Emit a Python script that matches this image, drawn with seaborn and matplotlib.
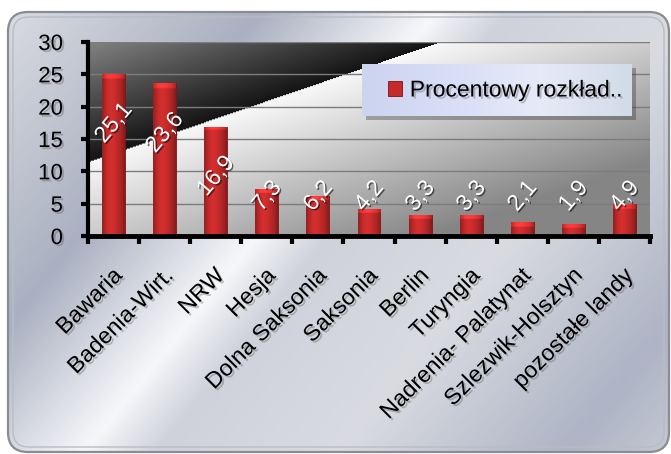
import numpy as np
import pandas as pd
import matplotlib
matplotlib.use("Agg")
import matplotlib.pyplot as plt
import matplotlib.patheffects as pe
from matplotlib.patches import FancyBboxPatch, Rectangle
from matplotlib.colors import LinearSegmentedColormap
import matplotlib.transforms as mtransforms
import seaborn as sns

# ---- data ----
categories = ["Bawaria", "Badenia-Wirt.", "NRW", "Hesja", "Dolna Saksonia",
              "Saksonia", "Berlin", "Turyngia", "Nadrenia- Palatynat",
              "Szlezwik-Holsztyn", "pozostałe landy"]
values = [25.1, 23.6, 16.9, 7.3, 6.2, 4.2, 3.3, 3.3, 2.1, 1.9, 4.9]
series_name = "Procentowy rozkład.."
y_ticks = [0, 5, 10, 15, 20, 25, 30]

FONT = ["Liberation Sans", "DejaVu Sans"]
plt.rcParams["font.family"] = FONT

W, H = 671, 454
fig = plt.figure(figsize=(W / 100, H / 100), dpi=100)
fig.patch.set_facecolor("white")

# ---- background frame (metallic) ----
bg = fig.add_axes([0, 0, 1, 1], zorder=-5)
bg.set_xlim(0, W)
bg.set_ylim(H, 0)
bg.axis("off")
yy, xx = np.mgrid[0:H, 0:W]
s = (xx + 0.8 * yy) / (W + 0.8 * H)
frame_cmap = LinearSegmentedColormap.from_list("frame", [
    (0.0, "#dcdee3"), (0.26, "#aab0c1"), (0.43, "#f6f7f9"), (0.50, "#cfd2db"),
    (0.68, "#d9dbe1"), (0.90, "#aeb4c5"), (1.0, "#c4c8d3")])
frame = FancyBboxPatch((8, 12), 661, 440, boxstyle="round,pad=0,rounding_size=20",
                       facecolor="none", edgecolor="#8a8c92", linewidth=1.6)
bg.add_patch(frame)
im = bg.imshow(s, cmap=frame_cmap, extent=[0, W, H, 0], aspect="auto", zorder=0)
im.set_clip_path(frame)
inner = FancyBboxPatch((13, 17), 651, 430, boxstyle="round,pad=0,rounding_size=16",
                       facecolor="none", edgecolor="#b9bcc4", linewidth=1.0, zorder=2)
bg.add_patch(inner)

# ---- main axes ----
L, R, T, B = 88, 650, 42, 236
ax = fig.add_axes([L / W, 1 - B / H, (R - L) / W, (B - T) / H])

df = pd.DataFrame({"land": categories, "value": values})
sns.barplot(data=df, x="land", y="value", color="#c42a2a", width=0.45,
            saturation=1, label=series_name, ax=ax, zorder=3,
            edgecolor="#7e1212", linewidth=0.6)

n = len(categories)
ax.set_xlim(-0.5, n - 0.5)
ax.set_ylim(0, 30)

# plot-area gradient (diagonal dark/white band)
pw, ph = R - L, B - T
gy, gx = np.mgrid[0:ph, 0:pw]
px = gx + L
py = gy + T
p0 = np.array([88.0, 162.0]); p1 = np.array([442.0, 42.0])
d = (p1 - p0) / np.linalg.norm(p1 - p0)
nrm = np.array([-d[1], d[0]])
if nrm[1] < 0:
    nrm = -nrm
sd = (px - p0[0]) * nrm[0] + (py - p0[1]) * nrm[1]
bright = np.where(sd < 0,
                  0.08 + 0.42 * np.clip(-sd / 110, 0, 1),
                  0.97 - 0.45 * np.clip(sd / 180, 0, 1))
ax.imshow(bright, cmap="gray", vmin=0, vmax=1,
          extent=[-0.5, n - 0.5, 0, 30], aspect="auto",
          zorder=0, origin="upper")

# bar gloss
bars = [p for p in ax.patches]
prof = np.array([0.78, 0.9, 1.0, 1.06, 1.08, 1.05, 1.0, 0.95, 0.9, 0.82, 0.7])
base = np.array([0xc6, 0x2b, 0x2b]) / 255
for p in bars:
    x0, y0, w, h = p.get_x(), p.get_y(), p.get_width(), p.get_height()
    rows = 60
    img = np.tile(prof[None, :, None] * base[None, None, :], (rows, 1, 1))
    cap = max(1, int(round(rows * 0.7 / h)))
    img[:cap] = img[:cap] * 1.28
    img = np.clip(img, 0, 1)
    gi = ax.imshow(img, extent=[x0, x0 + w, y0, y0 + h], aspect="auto",
                   zorder=3.5, origin="upper")
    gi.set_clip_path(p)

# grid
ax.set_yticks(y_ticks)
ax.yaxis.grid(True, color="#7c7c7c", linewidth=1.0, zorder=1)
for gl in ax.get_ygridlines():
    gl.set_zorder(1)

# spines
for sp in ["top", "right"]:
    ax.spines[sp].set_visible(False)
ax.spines["left"].set_linewidth(3)
ax.spines["left"].set_color("black")
ax.spines["bottom"].set_linewidth(3.5)
ax.spines["bottom"].set_color("black")
ax.spines["left"].set_zorder(6)
ax.spines["bottom"].set_zorder(6)

shadow = [pe.withSimplePatchShadow(offset=(1.5, -1.5), shadow_rgbFace="#555555", alpha=0.35)]

# y ticks
ax.tick_params(axis="y", which="major", direction="out", length=5, width=3,
               color="black", pad=13, labelsize=16)
for t in ax.get_yticklabels():
    t.set_path_effects(shadow)

# x ticks: major at boundaries (no labels), minor at centers (labels)
ax.set_xticks(np.arange(-0.5, n, 1.0))
ax.set_xticklabels([""] * (n + 1))
ax.tick_params(axis="x", which="major", direction="out", length=6, width=3, color="black")
ax.set_xticks(np.arange(n), minor=True)
ax.set_xticklabels(categories, minor=True)
ax.tick_params(axis="x", which="minor", length=0, pad=26, labelsize=16.5)
ax.set_xlabel("")
ax.set_ylabel("")
off = mtransforms.ScaledTranslation(5 / 100, 0, fig.dpi_scale_trans)
for t in ax.get_xticklabels(minor=True):
    t.set_rotation(45)
    t.set_ha("right")
    t.set_va("center")
    t.set_rotation_mode("anchor")
    t.set_transform(t.get_transform() + off)
    t.set_path_effects(shadow)

# value labels
lab_shadow = [pe.withSimplePatchShadow(offset=(1, -1), shadow_rgbFace="black", alpha=0.55)]
for i, v in enumerate(values):
    ypos = max(v - 7.6, 6.2)
    ax.text(i, ypos, f"{v:.1f}".replace(".", ","), rotation=50, rotation_mode="anchor",
            ha="center", va="center", color="white", fontsize=16.5, zorder=7,
            path_effects=lab_shadow)

# legend box
lx0, ly0, lx1, ly1 = 362, 64, 632, 116
def fx(x):
    return (x - L) / (R - L)
def fy(y):
    return (B - y) / (B - T)
ax.add_patch(Rectangle((fx(lx0) + 0.007, fy(ly1) - 0.02), fx(lx1) - fx(lx0), fy(ly0) - fy(ly1),
                       transform=ax.transAxes, facecolor="#303030", alpha=0.35,
                       edgecolor="none", zorder=7))
lg_img = np.linspace(0, 1, 64)[None, :]
lcmap = LinearSegmentedColormap.from_list("lg", ["#cdd4f0", "#d8def6", "#e6eaf8", "#d2dce8"])
lrect = Rectangle((fx(lx0), fy(ly1)), fx(lx1) - fx(lx0), fy(ly0) - fy(ly1),
                  transform=ax.transAxes, facecolor="#d4daf3", edgecolor="none", zorder=7.5)
ax.add_patch(lrect)
li = ax.imshow(lg_img, cmap=lcmap, extent=[fx(lx0), fx(lx1), fy(ly1), fy(ly0)],
               transform=ax.transAxes, aspect="auto", zorder=7.6)
li.set_clip_path(lrect)
ax.set_xlim(-0.5, n - 0.5)
ax.set_ylim(0, 30)

leg = ax.legend(loc="center left", bbox_to_anchor=(fx(388), fy(90)), frameon=False,
                fontsize=16.5, handlelength=0.6, handleheight=0.6, handletextpad=0.35,
                borderpad=0, borderaxespad=0)
leg.set_zorder(8)
for t in leg.get_texts():
    t.set_path_effects(shadow)

fig.savefig("out.png", dpi=100, facecolor="white")
